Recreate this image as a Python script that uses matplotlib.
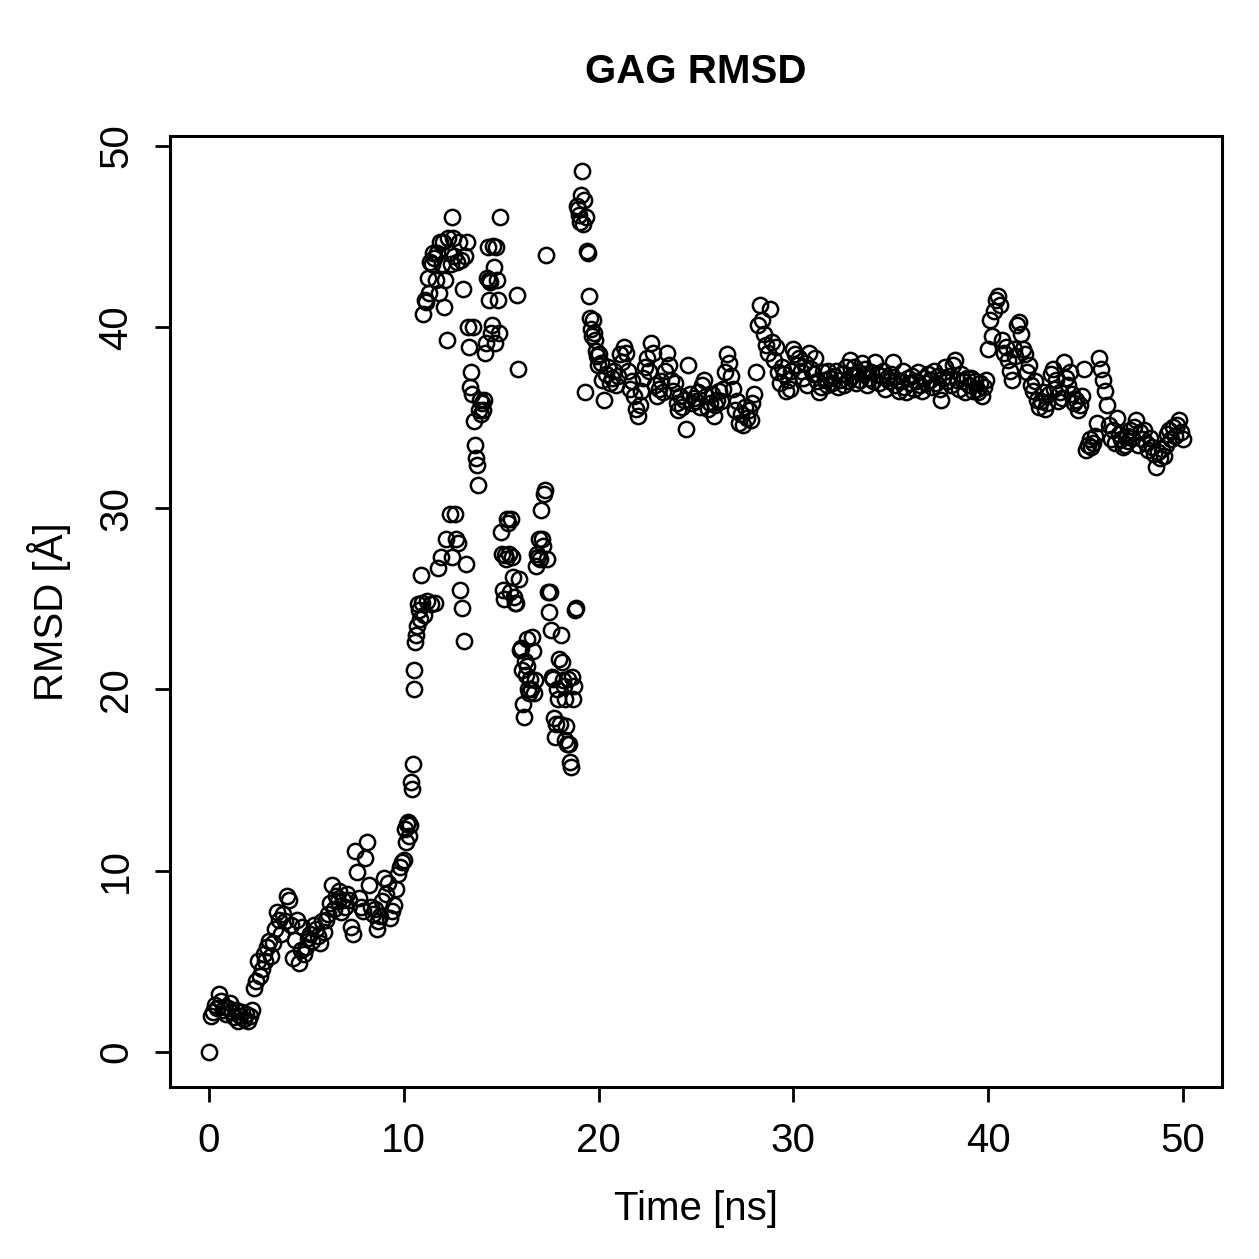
import numpy as np
import matplotlib
matplotlib.use("Agg")
import matplotlib.pyplot as plt

plt.rcParams['font.family'] = ['Liberation Sans', 'DejaVu Sans']

# Segment 1: 0.0 - 9.9 ns (0.1 ns step)
t1_start, t1_step = 0.0, 0.1
rmsd1 = [
    0.0, 2.0, 2.2, 2.6, 2.4, 3.2, 2.8, 2.3, 2.5, 2.1,
    2.4, 2.7, 2.2, 1.9, 2.3, 1.7, 2.0, 2.2, 1.8, 2.1,
    1.7, 2.0, 2.3, 3.5, 3.9, 5.0, 4.2, 4.6, 5.4, 5.0,
    5.8, 6.1, 5.3, 6.0, 6.8, 7.7, 7.3, 6.5, 7.6, 7.2,
    8.6, 8.4, 7.0, 5.2, 6.2, 7.3, 4.9, 5.6, 6.9, 5.4,
    5.8, 6.3, 6.5, 6.1, 7.0, 6.8, 6.4, 6.0, 7.2, 6.6,
    7.3, 7.6, 8.2, 9.2, 7.9, 8.6, 8.3, 8.9, 7.7, 8.4,
    8.0, 8.7, 8.4, 6.9, 6.5, 11.1, 9.9, 8.5, 8.0, 7.8,
    10.7, 11.6, 9.2, 8.0, 7.6, 7.9, 6.8, 7.2, 7.5, 8.3,
    9.6, 8.7, 9.3, 7.4, 7.8, 8.1, 9.0, 9.8, 10.2, 10.5,
]

# Segment 2: 10.0 - 19.95 ns (0.05 ns step)
t2_start, t2_step = 10.0, 0.05
rmsd2 = [
    10.6, 12.3, 11.6, 12.6, 12.7, 11.9, 12.5, 14.9, 14.5, 15.9,
    20.0, 21.1, 22.6, 23.0, 23.5, 24.7, 24.4, 23.9, 26.3, 24.8,
    40.7, 24.1, 41.5, 41.4, 24.9, 42.7, 41.9, 43.6, 24.7, 43.5,
    44.1, 43.8, 24.8, 42.6, 44.1, 26.7, 41.9, 44.7, 27.3, 43.5,
    44.7, 41.1, 42.6, 28.3, 39.3, 44.9, 44.1, 29.7, 43.5, 27.3,
    46.1, 44.9, 43.9, 29.7, 28.3, 43.6, 28.1, 44.7, 25.5, 43.7,
    24.5, 42.1, 22.7, 43.9, 26.9, 44.7, 40.0, 38.9, 36.7, 37.5,
    36.3, 40.0, 34.8, 33.5, 32.8, 32.4, 31.3, 35.4, 36.0, 35.2,
    35.8, 35.4, 36.0, 38.6, 39.1, 42.7, 44.4, 42.6, 41.5, 42.5,
    39.7, 40.1, 44.5, 43.3, 39.1, 44.4, 42.6, 41.5, 39.7, 46.1,
    28.7, 27.5, 25.5, 25.0, 27.4, 27.2, 29.4, 29.2, 27.5, 25.4,
    29.4, 27.3, 26.2, 25.1, 24.8, 24.8, 41.8, 37.7, 26.1, 22.2,
    22.3, 21.1, 19.2, 18.5, 21.6, 20.8, 21.3, 22.8, 20.0, 19.8,
    20.6, 20.0, 22.9, 22.1, 19.8, 20.5, 26.8, 27.5, 27.3, 28.3,
    27.2, 29.9, 28.3, 27.9, 30.8, 31.0, 44.0, 27.2, 25.4, 24.3,
    25.4, 23.3, 20.7, 20.6, 18.4, 17.4, 18.1, 20.0, 19.5, 21.7,
    18.1, 23.0, 21.5, 20.5, 20.2, 19.5, 17.2, 18.0, 17.0, 20.6,
    17.0, 16.0, 15.7, 20.7, 19.5, 20.2, 24.4, 24.5, 46.7, 46.5,
    46.2, 45.8, 47.3, 48.6, 45.7, 47.0, 36.4, 46.1, 44.2, 44.1,
    41.7, 40.5, 39.9, 39.5, 40.4, 39.7, 39.3, 38.7, 38.4, 37.9,
]

# Segment 3: 20.0 - 50.0 ns (0.1 ns step)
t3_start, t3_step = 20.0, 0.1
rmsd3 = [
    38.5, 38.0, 37.1, 36.0, 37.4, 37.8, 36.9, 37.2, 37.6, 36.8,
    37.3, 38.5, 38.1, 38.9, 38.6, 37.6, 36.6, 37.0, 36.2, 35.5,
    35.1, 35.7, 36.5, 37.2, 37.8, 38.3, 37.6, 39.1, 38.6, 36.8,
    36.2, 36.6, 37.0, 36.4, 37.6, 38.6, 37.9, 37.1, 36.5, 36.9,
    35.8, 35.4, 36.2, 35.6, 36.0, 34.4, 37.9, 36.3, 35.8, 36.1,
    35.9, 36.4, 35.6, 36.8, 37.1, 36.2, 35.5, 35.8, 36.3, 35.1,
    35.7, 36.0, 36.5, 35.9, 36.6, 37.5, 38.5, 38.0, 37.3, 36.6,
    35.4, 35.9, 34.7, 35.2, 34.6, 35.6, 35.0, 35.4, 34.9, 35.8,
    36.3, 37.5, 40.1, 41.2, 40.4, 39.6, 39.0, 38.6, 41.0, 39.2,
    38.2, 38.9, 37.5, 36.9, 37.8, 37.4, 36.5, 37.1, 36.6, 37.6,
    38.8, 38.5, 37.9, 38.3, 37.6, 37.2, 38.0, 36.8, 38.6, 37.7,
    37.4, 38.3, 37.0, 36.4, 36.7, 37.5, 37.1, 36.8, 37.6, 37.2,
    36.9, 37.3, 37.6, 36.7, 37.1, 37.4, 36.8, 37.8, 37.0, 38.2,
    37.3, 37.8, 36.9, 37.5, 37.1, 38.0, 37.4, 37.7, 36.8, 37.2,
    37.5, 37.0, 38.1, 37.4, 36.9, 37.3, 37.6, 36.6, 37.2, 37.0,
    37.4, 38.1, 36.8, 37.1, 36.5, 37.0, 37.6, 36.7, 36.4, 37.2,
    36.9, 37.3, 36.6, 37.0, 37.5, 36.8, 36.5, 37.2, 36.9, 37.4,
    37.1, 36.7, 37.6, 36.9, 37.3, 36.6, 36.0, 37.2, 37.8, 37.0,
    37.3, 36.8, 37.9, 38.2, 37.1, 36.6, 37.4, 37.0, 36.4, 37.2,
    36.8, 37.2, 36.5, 37.0, 36.6, 36.4, 36.9, 36.2, 36.7, 37.1,
    38.8, 40.4, 39.5, 40.9, 41.5, 41.7, 41.2, 39.3, 38.6, 38.9,
    38.2, 37.6, 37.1, 38.8, 38.4, 40.1, 40.3, 39.6, 38.8, 38.5,
    37.5, 37.9, 36.8, 36.5, 37.0, 36.0, 35.6, 35.9, 36.4, 35.5,
    35.8, 36.3, 37.4, 37.7, 36.6, 37.1, 35.9, 36.4, 36.1, 38.1,
    37.2, 36.8, 37.5, 36.3, 35.8, 36.0, 35.4, 35.7, 36.2, 37.7,
    33.2, 33.5, 33.8, 33.4, 33.6, 34.0, 34.7, 38.3, 37.7, 37.1,
    36.5, 35.7, 34.6, 33.8, 34.3, 33.6, 35.0, 34.1, 33.8, 33.4,
    33.5, 34.0, 33.7, 34.3, 33.9, 34.5, 34.9, 33.5, 34.2, 33.8,
    34.3, 33.6, 33.2, 33.9, 33.4, 33.0, 32.3, 33.1, 32.8, 33.3,
    32.9, 33.5, 34.1, 34.3, 33.8, 34.5, 34.0, 34.6, 34.9, 34.2,
    33.8,
]

xticks = [0, 10, 20, 30, 40, 50]
yticks = [0, 10, 20, 30, 40, 50]
title = "GAG RMSD"
xlabel = "Time [ns]"
ylabel = "RMSD [Å]"

t1 = t1_start + t1_step * np.arange(len(rmsd1))
t2 = t2_start + t2_step * np.arange(len(rmsd2))
t3 = t3_start + t3_step * np.arange(len(rmsd3))
t = np.concatenate([t1, t2, t3])
y = np.concatenate([rmsd1, rmsd2, rmsd3])

fig = plt.figure(figsize=(12.59, 12.59), dpi=100)
ax = fig.add_axes([170/1259, 1 - 1087/1259, (1222-170)/1259, (1087-136)/1259])
ax.plot(t, y, linestyle='none', marker='o', markersize=11,
        markerfacecolor='none', markeredgecolor='black', markeredgewidth=1.8)

ax.set_xlim(-2.0, 52.0)
ax.set_ylim(-1.94, 50.55)
ax.set_xticks(xticks)
ax.set_yticks(yticks)
ax.tick_params(axis='both', direction='out', length=11, width=2.0,
               labelsize=29, pad=14)
for lab in ax.get_yticklabels():
    lab.set_rotation(90)
    lab.set_va('center')
for s in ax.spines.values():
    s.set_linewidth(2.2)

ax.set_title(title, fontsize=29, fontweight='bold', pad=38)
ax.set_xlabel(xlabel, fontsize=29, labelpad=22)
ax.set_ylabel(ylabel, fontsize=29, labelpad=19)

fig.savefig("out.png", dpi=100)
